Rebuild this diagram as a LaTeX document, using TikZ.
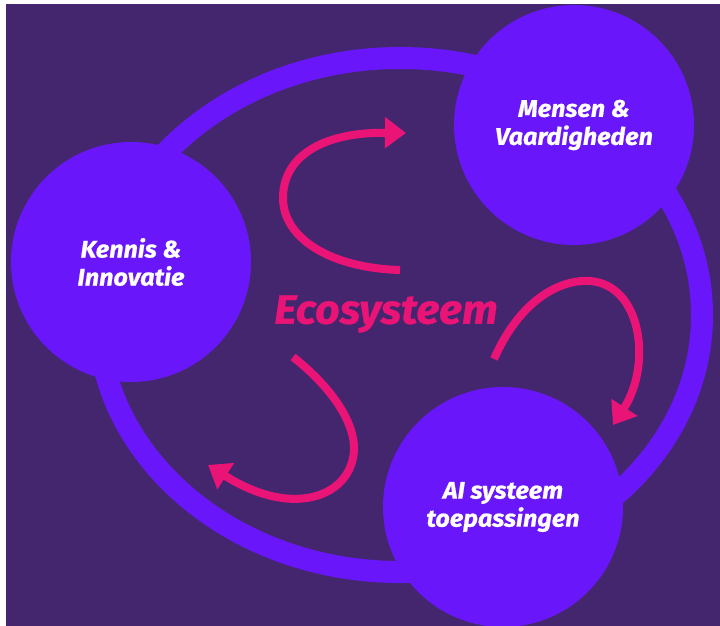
\documentclass[tikz,border=0pt]{standalone}
\usepackage{fontspec}
\setmainfont{Fira Sans}
\newfontfamily\heavyfont{Fira Sans}[FakeStretch=1.05,FakeBold=0.8]
\usetikzlibrary{arrows.meta}
\definecolor{bgpurple}{RGB}{68,38,110}
\definecolor{discviolet}{RGB}{106,22,250}
\definecolor{arrowpink}{RGB}{234,20,118}
\tikzset{
  disc/.style={circle, fill=discviolet, minimum size=240pt, inner sep=0pt,
    text=white, align=center, font=\heavyfont\fontsize{24}{28}\selectfont\bfseries\itshape},
  ring/.style={draw=discviolet, line width=22pt},
  cyclearrow/.style={draw=arrowpink, line width=8pt, line cap=butt,
    -{Triangle[length=21pt,width=30pt]}},
  centrelabel/.style={text=arrowpink, font=\heavyfont\fontsize{41}{46}\selectfont\bfseries\itshape, inner sep=0pt}
}
\begin{document}
\begin{tikzpicture}[x=1pt,y=-1pt]
\useasboundingbox (0,0) rectangle (720,626);
\fill[white] (0,0) rectangle (720,626);
\fill[bgpurple] (6,4) rectangle (720,626);
% big ring
\draw[ring] (400,315) ellipse [x radius=302pt, y radius=257pt];
% discs
\node[disc] (mensen) at (574,125) {Mensen \&\\Vaardigheden};
\node[disc] (kennis) at (131,262) {Kennis \&\\Innovatie};
\node[disc] (ai) at (503,507) {AI systeem\\toepassingen};
% centre label
\node[centrelabel] (eco) at (386,314) {Ecosysteem};
% arrow end points
\coordinate (a1s) at (400,270);
\coordinate (a1e) at (406,133);
\coordinate (a2s) at (494,359);
\coordinate (a2e) at (613,425);
\coordinate (a3s) at (293,357);
\coordinate (a3e) at (208,465);
% arrows
\draw[cyclearrow] (a1s) .. controls (330,268) and (283,238) .. (283,198)
  .. controls (283,158) and (320,132) .. (a1e);
\draw[cyclearrow] (a2s) .. controls (520,300) and (560,279) .. (590,281)
  .. controls (642,285) and (652,365) .. (a2e);
\draw[cyclearrow] (a3s) .. controls (335,390) and (355,425) .. (354,450)
  .. controls (352,495) and (295,520) .. (a3e);
\end{tikzpicture}
\end{document}
